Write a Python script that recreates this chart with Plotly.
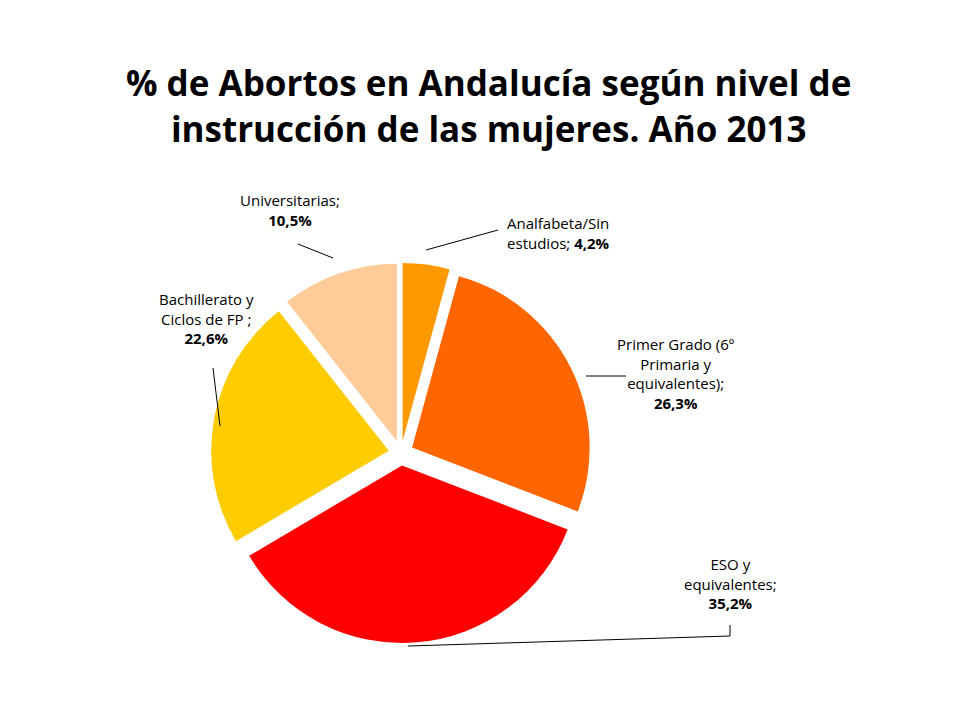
import plotly.graph_objects as go

labels = ["Analfabeta/Sin estudios", "Primer Grado (6º Primaria y equivalentes)",
          "ESO y equivalentes", "Bachillerato y Ciclos de FP", "Universitarias"]
values = [4.2, 26.3, 35.2, 22.6, 10.5]
colors = ["#FF9900", "#FF6600", "#FF0000", "#FFCC00", "#FFCC99"]

# label text shown next to each slice (prefix lines, then bold value)
label_text = ["Analfabeta/Sin<br>estudios; ", "Primer Grado (6º<br>Primaria y<br>equivalentes);<br>",
              "ESO y<br>equivalentes;<br>", "Bachillerato y<br>Ciclos de FP ;<br>", "Universitarias;<br>"]
label_pos = [(550, 225), (668, 365), (722, 575), (198, 310), (282, 202)]
leaders = [[(418, 242), (490, 222)],
           [(578, 368), (618, 368)],
           [(400, 638), (722, 628), (722, 617)],
           [(212, 418), (205, 360)],
           [(325, 250), (290, 236)]]

fig = go.Figure(go.Pie(
    labels=labels, values=values, sort=False, direction="clockwise", rotation=0,
    marker=dict(colors=colors, line=dict(color="white", width=0)),
    pull=[0.07] * 5, textinfo="none", hoverinfo="label+percent",
    domain=dict(x=[203 / 960, 583 / 960], y=[1 - 645 / 720, 1 - 245 / 720]),
    showlegend=False,
))

px = lambda x: x / 960
py = lambda y: 1 - y / 720

for txt, v, (x, y) in zip(label_text, values, label_pos):
    fig.add_annotation(x=px(x), y=py(y), xref="paper", yref="paper", showarrow=False,
                       xanchor="center", yanchor="middle",
                       text=f"{txt}<b>{v:.1f}%</b>".replace(".", ","),
                       font=dict(family="Open Sans", size=15, color="black"),
                       align="center")

for pts in leaders:
    path = "M " + " L ".join(f"{px(a)} {py(b)}" for a, b in pts)
    fig.add_shape(type="path", path=path, xref="paper", yref="paper",
                  line=dict(color="black", width=1))

fig.add_annotation(
    x=0.5, y=py(98), xref="paper", yref="paper", showarrow=False,
    xanchor="center", yanchor="middle",
    text="<b>% de Abortos en Andalucía según nivel de<br>instrucción de las mujeres. Año 2013</b>",
    font=dict(family="Open Sans", size=35, color="black"))

fig.update_layout(
    width=960, height=720, margin=dict(l=0, r=0, t=0, b=0),
    paper_bgcolor="white", plot_bgcolor="white",
)
fig.write_html("out.html")
